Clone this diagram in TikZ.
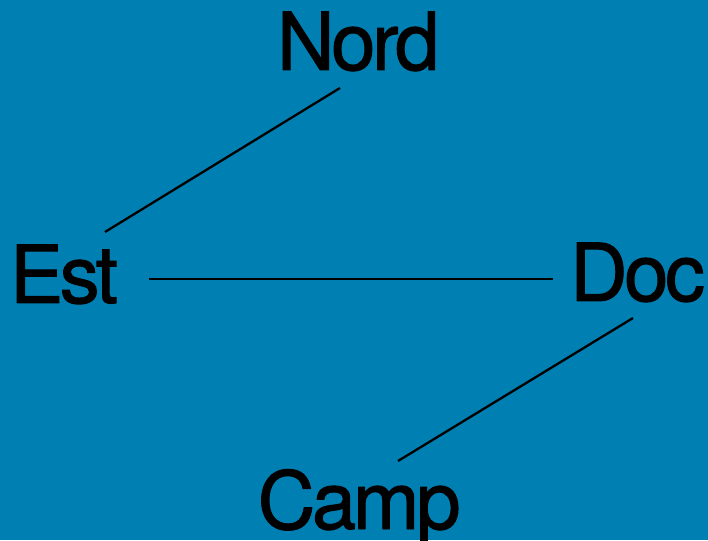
\documentclass[tikz,border=0pt]{standalone}
\usepackage{fontspec}
\newfontfamily\labfont[LetterSpace=-4.5,FakeBold=1.2]{TeX Gyre Heros}
\usetikzlibrary{calc}
\definecolor{bgblue}{RGB}{0,127,178}
\tikzset{
  lab/.style={inner sep=0pt, anchor=base west, font=\labfont\fontsize{80}{80}\selectfont, text=black},
  link/.style={draw=black, line width=2.3pt}
}
\begin{document}
\begin{tikzpicture}[x=1pt,y=1pt]
\fill[bgblue] (0,0) rectangle (708,540);
\useasboundingbox (0,0) rectangle (708,540);
\node[lab] (nord) at (276.7,470) {Nord};
\node[lab] (est) at (9.7,237) {Est};
\node[lab] (doc) at (569.7,239) {Doc};
\node[lab] (camp) at (257.5,11) {Camp};
\draw[link] ($(nord.base west)+(63.3,-18)$) -- ($(est.base west)+(95.3,71)$);
\draw[link] ($(est.base west)+(139.3,24.3)$) -- ($(doc.base west)+(-17,22.3)$);
\draw[link] ($(doc.base west)+(63.3,-17)$) -- ($(camp.base west)+(140.5,68)$);
\end{tikzpicture}
\end{document}
